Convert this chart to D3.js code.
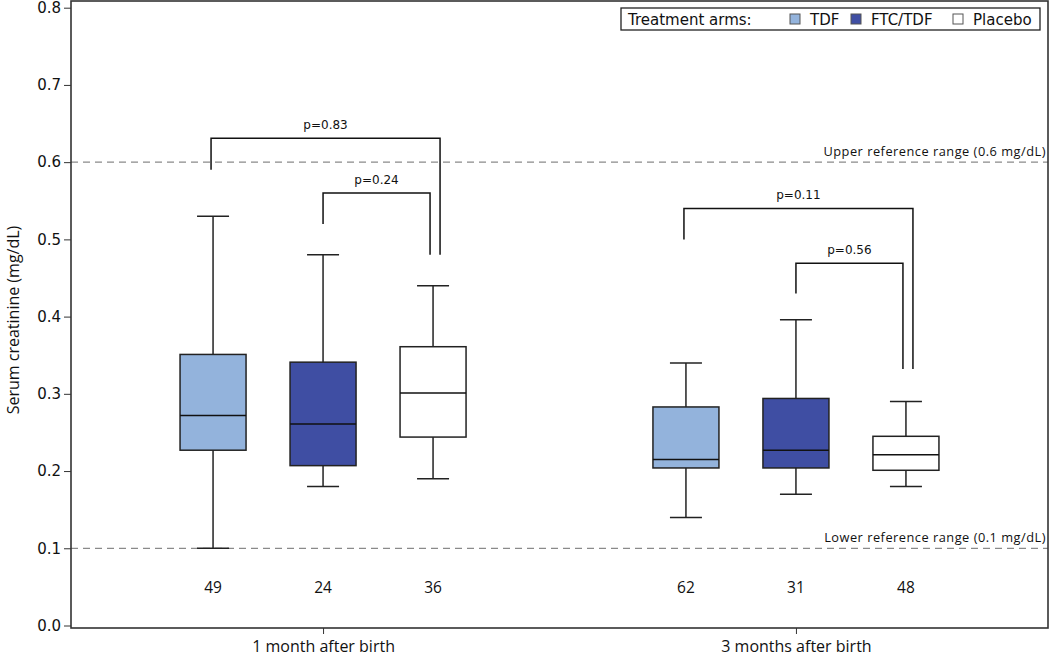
<!DOCTYPE html>
<html>
<head>
<meta charset="utf-8">
<script src="https://cdn.jsdelivr.net/npm/d3@7"></script>
<style>
  body { margin: 0; background: #fff; }
  svg { display: block; }
  text { fill: #111; }
</style>
</head>
<body>
<svg class="chart" width="1050" height="657"></svg>
<script>
// time points and treatment arms
var timepoints = ["1 month after birth", "3 months after birth"];
var arms = ["TDF", "FTC/TDF", "Placebo"];
var armColors = ["#93b3dc", "#3f4ea3", "#ffffff"];

// box statistics, order: [1 month TDF, FTC/TDF, Placebo, 3 months TDF, FTC/TDF, Placebo]
var whiskerLow  = [0.10, 0.18, 0.19, 0.14, 0.17, 0.18];
var quart1      = [0.227, 0.207, 0.244, 0.204, 0.204, 0.201];
var medians     = [0.272, 0.261, 0.301, 0.215, 0.227, 0.221];
var quart3      = [0.351, 0.341, 0.361, 0.283, 0.294, 0.245];
var whiskerHigh = [0.53, 0.48, 0.44, 0.34, 0.396, 0.29];
var counts      = [49, 24, 36, 62, 31, 48];

// p-value brackets: timepoint, arms joined, bracket top and leg ends
var brackets = [
  {p: "p=0.83", t: 0, from: 0, to: 2, top: 0.631, left: 0.59, right: 0.48, outer: true},
  {p: "p=0.24", t: 0, from: 1, to: 2, top: 0.56, left: 0.52, right: 0.48, outer: false},
  {p: "p=0.11", t: 1, from: 0, to: 2, top: 0.54, left: 0.50, right: 0.332, outer: true},
  {p: "p=0.56", t: 1, from: 1, to: 2, top: 0.469, left: 0.43, right: 0.332, outer: false}
];

// reference ranges
var refLines = [
  {label: "Upper reference range (0.6 mg/dL)", value: 0.6},
  {label: "Lower reference range (0.1 mg/dL)", value: 0.1}
];
var yTicks = [0.0, 0.1, 0.2, 0.3, 0.4, 0.5, 0.6, 0.7, 0.8];

var plotL = 71, plotR = 1048, plotT = 1, plotB = 628;
var svg = d3.select("svg.chart");

var y = d3.scaleLinear().domain([0, 0.8]).range([625.5, 7.7]);
var x = d3.scalePoint().domain(timepoints).range([plotL, plotR]).padding(0.533);
var xa = d3.scalePoint().domain(arms).range([-110, 110]);
var boxW = 66;

var boxes = [];
timepoints.forEach(function(t, ti) {
  arms.forEach(function(a, ai) {
    var i = ti * arms.length + ai;
    boxes.push({t: t, a: a, ai: ai, lo: whiskerLow[i], q1: quart1[i], med: medians[i],
                q3: quart3[i], hi: whiskerHigh[i], n: counts[i], cx: x(t) + xa(a)});
  });
});

// reference lines
refLines.forEach(function(r) {
  svg.append("line")
    .attr("x1", plotL).attr("x2", plotR)
    .attr("y1", y(r.value)).attr("y2", y(r.value))
    .attr("stroke", "#8a8a8a").attr("stroke-width", 1.3)
    .style("stroke-dasharray", "7, 5");
  svg.append("text")
    .attr("x", plotR - 2).attr("y", y(r.value) - 6)
    .attr("text-anchor", "end")
    .style("font-family", "Open Sans").style("font-size", "12.8px")
    .style("letter-spacing", "0.5px")
    .text(r.label);
});

// boxes
var g = svg.selectAll("g.box").data(boxes).enter().append("g").attr("class", "box");
g.append("line")
  .attr("x1", function(d) { return d.cx; }).attr("x2", function(d) { return d.cx; })
  .attr("y1", function(d) { return y(d.hi); }).attr("y2", function(d) { return y(d.lo); })
  .attr("stroke", "#222").attr("stroke-width", 1.5);
g.selectAll("line.cap").data(function(d) { return [{cx: d.cx, v: d.hi}, {cx: d.cx, v: d.lo}]; })
  .enter().append("line").attr("class", "cap")
  .attr("x1", function(d) { return d.cx - 16; }).attr("x2", function(d) { return d.cx + 16; })
  .attr("y1", function(d) { return y(d.v); }).attr("y2", function(d) { return y(d.v); })
  .attr("stroke", "#222").attr("stroke-width", 1.5);
g.append("rect")
  .attr("x", function(d) { return d.cx - boxW / 2; })
  .attr("y", function(d) { return y(d.q3); })
  .attr("width", boxW)
  .attr("height", function(d) { return y(d.q1) - y(d.q3); })
  .attr("fill", function(d) { return armColors[d.ai]; })
  .attr("stroke", "#222").attr("stroke-width", 1.5);
g.append("line")
  .attr("x1", function(d) { return d.cx - boxW / 2; }).attr("x2", function(d) { return d.cx + boxW / 2; })
  .attr("y1", function(d) { return y(d.med); }).attr("y2", function(d) { return y(d.med); })
  .attr("stroke", "#111").attr("stroke-width", 1.5);
g.append("text")
  .attr("x", function(d) { return d.cx; }).attr("y", y(0.05) + 6)
  .attr("text-anchor", "middle")
  .style("font-family", "Open Sans").style("font-size", "15.5px")
  .text(function(d) { return d.n; });

// brackets
brackets.forEach(function(b) {
  var x1 = x(timepoints[b.t]) + xa(arms[b.from]) - (b.outer ? 2 : 0);
  var x2 = x(timepoints[b.t]) + xa(arms[b.to]) + (b.outer ? 7 : -3);
  svg.append("path")
    .attr("d", "M" + x1 + "," + y(b.left) + "V" + y(b.top) + "H" + x2 + "V" + y(b.right))
    .attr("fill", "none").attr("stroke", "#111").attr("stroke-width", 1.5);
  svg.append("text")
    .attr("x", (x1 + x2) / 2).attr("y", y(b.top) - 9)
    .attr("text-anchor", "middle")
    .style("font-family", "DejaVu Sans").style("font-size", "12px")
    .text(b.p);
});

// frame
svg.append("rect")
  .attr("x", plotL).attr("y", plotT).attr("width", plotR - plotL).attr("height", plotB - plotT)
  .attr("fill", "none").attr("stroke", "#333").attr("stroke-width", 1.6);

// y axis
var yAxis = d3.axisLeft(y).tickValues(yTicks).tickFormat(d3.format(".1f")).tickSize(7).tickSizeOuter(0);
var ya = svg.append("g").attr("transform", "translate(" + plotL + ",0)").call(yAxis);
ya.select(".domain").remove();
ya.selectAll("line").attr("stroke", "#333");
ya.selectAll("text").style("font-family", "DejaVu Sans").style("font-size", "15px").attr("fill", "#111");

svg.append("text")
  .attr("transform", "translate(19," + 320 + ") rotate(-90)")
  .attr("text-anchor", "middle")
  .style("font-family", "Open Sans").style("font-size", "16px")
  .text("Serum creatinine (mg/dL)");

// x axis
var xAxis = d3.axisBottom(x).tickSize(6).tickSizeOuter(0).tickPadding(7);
var xg = svg.append("g").attr("transform", "translate(0," + plotB + ")").call(xAxis);
xg.select(".domain").remove();
xg.selectAll("line").attr("stroke", "#333");
xg.selectAll("text").style("font-family", "Open Sans").style("font-size", "16px").attr("fill", "#111");

// legend
var lg = svg.append("g");
lg.append("rect").attr("x", 621).attr("y", 8).attr("width", 419).attr("height", 22)
  .attr("fill", "#fff").attr("stroke", "#222").attr("stroke-width", 1.3);
lg.append("text").attr("x", 628).attr("y", 24.5)
  .style("font-family", "DejaVu Sans").style("font-size", "15px")
  .text("Treatment arms:");
var legX = [790, 851, 953];
arms.forEach(function(a, i) {
  lg.append("rect").attr("x", legX[i]).attr("y", 14).attr("width", 10).attr("height", 10)
    .attr("fill", armColors[i]).attr("stroke", "#555").attr("stroke-width", 1);
  lg.append("text").attr("x", legX[i] + 20).attr("y", 24.5)
    .style("font-family", "DejaVu Sans").style("font-size", "15px")
    .text(a);
});
</script>
</body>
</html>
